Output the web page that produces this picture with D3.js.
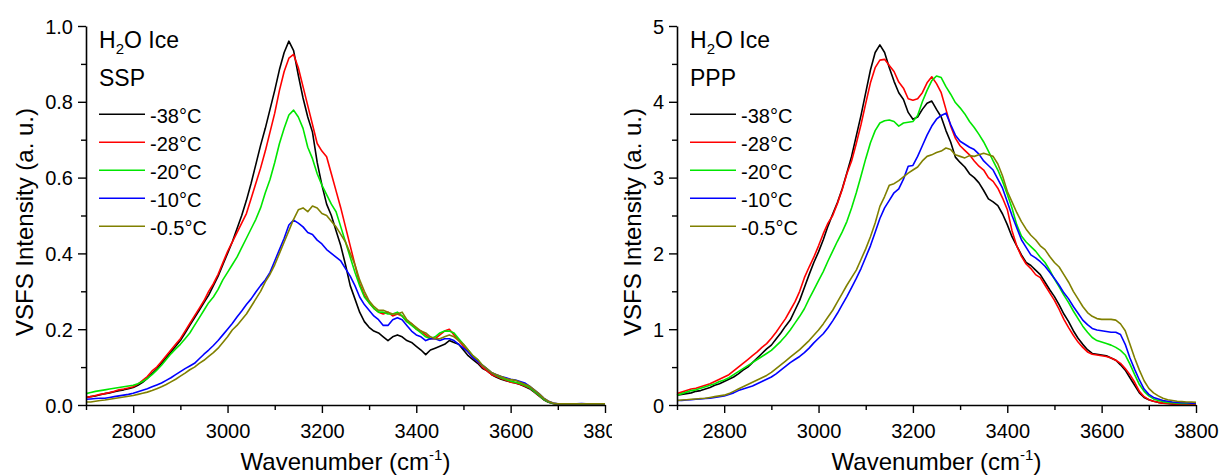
<!DOCTYPE html>
<html><head><meta charset="utf-8">
<script src="https://cdn.jsdelivr.net/npm/d3@7"></script>
<style>
body{margin:0;background:#fff;}
svg{display:block;}
text{font-family:Arial,"Liberation Sans",Helvetica,sans-serif;fill:#000;}
</style></head><body>
<svg id="chart" width="1221" height="475"></svg>
<script>
// ---------- DATA ----------
const wavenumbers = d3.range(2700, 3801, 10); // cm^-1 grid, 2700..3800
const seriesLabels = ["-38\u00B0C", "-28\u00B0C", "-20\u00B0C", "-10\u00B0C", "-0.5\u00B0C"];
const seriesColors = ["#000000", "#ff0000", "#00e600", "#0000ff", "#808000"];

// SSP panel
const ssp_m38 = [
0.020,0.022,0.024,0.027,0.030,0.032,0.035,0.038,0.040,0.043,
0.046,0.052,0.060,0.070,0.083,0.095,0.110,0.125,0.140,0.155,
0.170,0.190,0.210,0.230,0.250,0.270,0.290,0.315,0.340,0.370,
0.400,0.430,0.465,0.500,0.540,0.585,0.635,0.685,0.730,0.780,
0.830,0.885,0.930,0.960,0.935,0.870,0.810,0.760,0.720,0.640,
0.580,0.530,0.500,0.460,0.420,0.370,0.315,0.280,0.245,0.220,
0.205,0.195,0.190,0.180,0.170,0.180,0.185,0.180,0.170,0.165,
0.155,0.145,0.133,0.145,0.150,0.155,0.160,0.170,0.165,0.160,
0.145,0.130,0.120,0.110,0.097,0.090,0.080,0.073,0.068,0.064,
0.061,0.058,0.054,0.049,0.043,0.034,0.024,0.014,0.007,0.004,
0.002,0.002,0.002,0.002,0.002,0.002,0.002,0.002,0.002,0.002,
0.002];
const ssp_m28 = [
0.020,0.022,0.025,0.028,0.030,0.033,0.036,0.040,0.042,0.045,
0.048,0.055,0.065,0.075,0.090,0.100,0.115,0.130,0.145,0.160,
0.175,0.195,0.215,0.235,0.255,0.275,0.300,0.320,0.345,0.375,
0.405,0.430,0.455,0.480,0.505,0.545,0.585,0.625,0.670,0.720,
0.770,0.830,0.880,0.915,0.925,0.890,0.840,0.790,0.740,0.690,
0.670,0.655,0.610,0.565,0.520,0.470,0.420,0.370,0.320,0.290,
0.270,0.255,0.245,0.240,0.245,0.235,0.240,0.235,0.220,0.215,
0.200,0.195,0.185,0.175,0.175,0.185,0.195,0.200,0.185,0.170,
0.155,0.140,0.125,0.115,0.100,0.090,0.080,0.075,0.070,0.065,
0.060,0.058,0.055,0.050,0.045,0.035,0.025,0.015,0.008,0.004,
0.002,0.002,0.002,0.002,0.002,0.002,0.002,0.002,0.002,0.002,
0.002];
const ssp_m20 = [
0.030,0.033,0.036,0.038,0.040,0.042,0.044,0.046,0.048,0.050,
0.052,0.056,0.062,0.070,0.080,0.092,0.105,0.120,0.135,0.148,
0.160,0.175,0.190,0.210,0.230,0.250,0.270,0.285,0.305,0.330,
0.350,0.370,0.390,0.415,0.440,0.465,0.490,0.520,0.560,0.595,
0.640,0.690,0.730,0.765,0.778,0.760,0.730,0.680,0.650,0.610,
0.580,0.555,0.530,0.510,0.470,0.430,0.390,0.350,0.315,0.285,
0.270,0.255,0.245,0.245,0.240,0.240,0.245,0.235,0.220,0.210,
0.200,0.190,0.180,0.175,0.180,0.190,0.195,0.195,0.190,0.175,
0.160,0.145,0.130,0.120,0.105,0.095,0.085,0.078,0.072,0.067,
0.063,0.060,0.057,0.052,0.046,0.036,0.026,0.015,0.008,0.004,
0.002,0.002,0.002,0.002,0.002,0.002,0.002,0.002,0.002,0.002,
0.002];
const ssp_m10 = [
0.015,0.016,0.017,0.018,0.018,0.020,0.022,0.024,0.026,0.028,
0.031,0.035,0.039,0.043,0.048,0.053,0.058,0.065,0.072,0.080,
0.088,0.096,0.103,0.110,0.122,0.134,0.145,0.157,0.170,0.185,
0.200,0.215,0.232,0.248,0.265,0.280,0.298,0.315,0.330,0.350,
0.380,0.410,0.440,0.475,0.488,0.480,0.470,0.455,0.450,0.435,
0.425,0.410,0.400,0.390,0.380,0.360,0.340,0.315,0.285,0.265,
0.250,0.235,0.225,0.210,0.210,0.225,0.230,0.225,0.210,0.195,
0.185,0.180,0.170,0.175,0.175,0.170,0.175,0.175,0.170,0.160,
0.150,0.140,0.125,0.115,0.105,0.095,0.085,0.080,0.075,0.072,
0.068,0.066,0.062,0.058,0.050,0.040,0.030,0.018,0.010,0.005,
0.003,0.003,0.003,0.003,0.003,0.004,0.003,0.003,0.003,0.003,
0.003];
const ssp_m05 = [
0.008,0.008,0.010,0.012,0.013,0.015,0.017,0.019,0.021,0.023,
0.025,0.028,0.031,0.034,0.038,0.043,0.048,0.054,0.061,0.068,
0.076,0.084,0.093,0.100,0.110,0.118,0.128,0.138,0.150,0.165,
0.180,0.198,0.210,0.225,0.240,0.260,0.280,0.300,0.325,0.345,
0.370,0.400,0.430,0.460,0.490,0.515,0.520,0.510,0.525,0.520,
0.505,0.500,0.485,0.470,0.450,0.430,0.400,0.370,0.330,0.300,
0.275,0.260,0.250,0.250,0.245,0.240,0.240,0.245,0.225,0.215,
0.205,0.195,0.190,0.180,0.175,0.175,0.180,0.185,0.180,0.170,
0.160,0.145,0.130,0.120,0.105,0.095,0.085,0.080,0.075,0.070,
0.067,0.065,0.060,0.055,0.050,0.040,0.030,0.018,0.010,0.005,
0.003,0.003,0.003,0.003,0.003,0.003,0.003,0.003,0.003,0.003,
0.003];

// PPP panel
const ppp_m38 = [
0.13,0.14,0.15,0.16,0.18,0.19,0.21,0.23,0.26,0.28,
0.31,0.34,0.37,0.41,0.46,0.50,0.56,0.62,0.68,0.74,
0.79,0.87,0.95,1.04,1.12,1.25,1.38,1.55,1.72,1.88,
2.02,2.18,2.36,2.52,2.67,2.85,3.06,3.28,3.55,3.82,
4.12,4.42,4.65,4.75,4.65,4.45,4.27,4.12,4.03,3.86,
3.77,3.80,3.90,3.98,4.01,3.90,3.80,3.62,3.47,3.27,
3.20,3.14,3.05,3.00,2.93,2.83,2.72,2.68,2.63,2.52,
2.38,2.22,2.10,1.98,1.88,1.84,1.78,1.72,1.62,1.52,
1.43,1.32,1.20,1.10,0.98,0.88,0.80,0.73,0.68,0.67,
0.66,0.65,0.62,0.59,0.53,0.46,0.36,0.26,0.16,0.10,
0.07,0.05,0.035,0.025,0.02,0.015,0.012,0.01,0.01,0.01,
0.01];
const ppp_m28 = [
0.15,0.17,0.19,0.21,0.22,0.24,0.26,0.28,0.31,0.34,
0.37,0.40,0.45,0.50,0.55,0.60,0.65,0.70,0.76,0.81,
0.88,0.96,1.05,1.14,1.25,1.36,1.50,1.68,1.82,1.95,
2.10,2.26,2.40,2.50,2.66,2.84,3.05,3.22,3.45,3.70,
3.98,4.25,4.45,4.55,4.56,4.48,4.40,4.26,4.18,4.04,
4.02,4.04,4.12,4.25,4.33,4.24,4.12,3.90,3.68,3.52,
3.42,3.36,3.30,3.22,3.15,3.10,3.00,2.95,2.86,2.73,
2.58,2.30,2.10,1.96,1.86,1.80,1.72,1.68,1.58,1.48,
1.38,1.26,1.13,1.02,0.92,0.83,0.76,0.70,0.67,0.66,
0.65,0.64,0.62,0.59,0.55,0.48,0.40,0.30,0.18,0.11,
0.07,0.05,0.035,0.025,0.02,0.015,0.012,0.01,0.01,0.01,
0.01];
const ppp_m20 = [
0.13,0.15,0.17,0.19,0.20,0.22,0.24,0.26,0.28,0.31,
0.33,0.36,0.40,0.44,0.48,0.52,0.56,0.60,0.64,0.68,
0.72,0.78,0.84,0.91,0.99,1.08,1.17,1.27,1.40,1.52,
1.64,1.76,1.90,2.03,2.16,2.28,2.42,2.60,2.80,3.02,
3.25,3.46,3.62,3.72,3.75,3.76,3.74,3.68,3.72,3.73,
3.74,3.82,4.00,4.15,4.28,4.34,4.32,4.20,4.10,3.99,
3.92,3.84,3.74,3.66,3.57,3.47,3.35,3.22,3.10,2.95,
2.78,2.60,2.38,2.23,2.15,2.09,2.03,1.95,1.88,1.78,
1.66,1.56,1.45,1.35,1.24,1.14,1.04,0.96,0.89,0.85,
0.83,0.81,0.79,0.76,0.72,0.66,0.54,0.40,0.27,0.18,
0.12,0.08,0.06,0.045,0.035,0.03,0.025,0.02,0.02,0.02,
0.02];
const ppp_m10 = [
0.06,0.06,0.065,0.07,0.075,0.08,0.085,0.09,0.10,0.11,
0.12,0.14,0.16,0.19,0.21,0.23,0.25,0.28,0.31,0.34,
0.37,0.41,0.46,0.51,0.56,0.60,0.64,0.69,0.75,0.82,
0.88,0.94,1.02,1.11,1.21,1.32,1.43,1.55,1.67,1.80,
1.95,2.10,2.28,2.46,2.60,2.70,2.80,2.85,2.98,3.15,
3.16,3.28,3.42,3.56,3.68,3.77,3.82,3.85,3.70,3.56,
3.48,3.44,3.40,3.37,3.31,3.22,3.16,3.10,2.98,2.86,
2.68,2.50,2.34,2.18,2.08,1.98,1.94,1.89,1.83,1.75,
1.67,1.58,1.48,1.40,1.30,1.21,1.12,1.06,1.01,0.99,
0.98,0.97,0.96,0.96,0.93,0.80,0.62,0.47,0.33,0.21,
0.14,0.10,0.08,0.06,0.05,0.04,0.035,0.03,0.03,0.025,
0.025];
const ppp_m05 = [
0.06,0.065,0.07,0.075,0.08,0.085,0.09,0.10,0.11,0.12,
0.13,0.15,0.18,0.21,0.24,0.27,0.30,0.33,0.36,0.39,
0.43,0.48,0.53,0.58,0.63,0.68,0.73,0.79,0.85,0.92,
0.99,1.07,1.16,1.25,1.36,1.47,1.58,1.68,1.78,1.92,
2.06,2.22,2.40,2.62,2.75,2.90,2.92,2.96,3.01,3.06,
3.10,3.14,3.22,3.28,3.30,3.33,3.35,3.39,3.37,3.30,
3.28,3.26,3.29,3.28,3.30,3.32,3.30,3.28,3.18,3.02,
2.82,2.68,2.54,2.42,2.32,2.24,2.18,2.10,2.05,1.96,
1.88,1.82,1.72,1.62,1.50,1.40,1.30,1.22,1.17,1.14,
1.13,1.13,1.13,1.12,1.07,0.98,0.80,0.62,0.46,0.32,
0.22,0.16,0.12,0.09,0.07,0.06,0.05,0.045,0.04,0.04,
0.035];

const xTicksMajor = [2800, 3000, 3200, 3400, 3600, 3800];
const xTicksMinor = [2700, 2900, 3100, 3300, 3500, 3700];
const sspYMajor = [0, 0.2, 0.4, 0.6, 0.8, 1.0];
const sspYMinor = [0.1, 0.3, 0.5, 0.7, 0.9];
const pppYMajor = [0, 1, 2, 3, 4, 5];
const pppYMinor = [0.5, 1.5, 2.5, 3.5, 4.5];

// ---------- DRAW ----------
const svg = d3.select("#chart");
svg.append("rect").attr("width", 1221).attr("height", 475).attr("fill", "#fff");

const defs = svg.append("defs");
defs.append("clipPath").attr("id", "leftClip")
  .append("rect").attr("x", 0).attr("y", 0).attr("width", 612).attr("height", 475);

function drawPanel(opt) {
  const g = svg.append("g").attr("clip-path", opt.clip ? "url(#" + opt.clip + ")" : null);
  const x = d3.scaleLinear().domain([2700, 3800]).range([opt.x0, opt.x1]);
  const y = d3.scaleLinear().domain(opt.yDomain).range([405, 26]);

  // curves
  const line = d3.line().x((d, j) => x(wavenumbers[j])).y(d => y(d));
  opt.series.forEach((s, i) => {
    g.append("path").datum(s)
      .attr("d", line)
      .attr("fill", "none")
      .attr("stroke", seriesColors[i])
      .attr("stroke-width", 1.6)
      .attr("stroke-linejoin", "round");
  });

  // x axis
  const xMin = g.append("g").attr("transform", "translate(0,405)")
    .call(d3.axisBottom(x).tickValues(xTicksMinor).tickSize(5).tickSizeOuter(0).tickFormat(""));
  xMin.select(".domain").remove();
  const xMaj = g.append("g").attr("transform", "translate(0,405)")
    .call(d3.axisBottom(x).tickValues(xTicksMajor).tickSize(8).tickSizeOuter(0).tickPadding(6).tickFormat(d3.format("d")));
  xMaj.selectAll("text").attr("font-size", 20).attr("dy", null).attr("y", 33);

  // y axis
  const yMin = g.append("g").attr("transform", "translate(" + opt.x0 + ",0)")
    .call(d3.axisLeft(y).tickValues(opt.yMinor).tickSize(5).tickSizeOuter(0).tickFormat(""));
  yMin.select(".domain").remove();
  const yMaj = g.append("g").attr("transform", "translate(" + opt.x0 + ",0)")
    .call(d3.axisLeft(y).tickValues(opt.yMajor).tickSize(8).tickSizeOuter(0).tickPadding(5).tickFormat(opt.yFormat));
  yMaj.selectAll("text").attr("font-size", 20).attr("dy", "0.35em");

  g.selectAll(".domain").attr("stroke", "#000").attr("stroke-width", 1.6);
  g.selectAll(".tick line").attr("stroke", "#000").attr("stroke-width", 1.4);
  g.selectAll(".tick text").attr("fill", "#000").attr("font-family", "Arial, 'Liberation Sans', sans-serif");

  // axis titles
  const xt = g.append("text").attr("x", (opt.x0 + opt.x1) / 2).attr("y", 470)
    .attr("text-anchor", "middle").attr("font-size", 24);
  xt.append("tspan").text("Wavenumber (cm");
  xt.append("tspan").attr("font-size", 15).attr("dy", -10).text("-1");
  xt.append("tspan").attr("dy", 10).text(")");

  g.append("text").attr("transform", "translate(" + opt.yTitleX + ",222) rotate(-90)")
    .attr("text-anchor", "middle").attr("font-size", 24)
    .text("VSFS Intensity (a. u.)");

  // annotation
  const lx = opt.x0 + 13;
  const t1 = g.append("text").attr("x", lx).attr("y", 48).attr("font-size", 23);
  t1.append("tspan").text("H");
  t1.append("tspan").attr("font-size", 15).attr("dy", 6).text("2");
  t1.append("tspan").attr("dy", -6).text("O Ice");
  g.append("text").attr("x", lx).attr("y", 86).attr("font-size", 23).text(opt.mode);

  // legend
  seriesLabels.forEach((lab, i) => {
    const ly = 114.3 + i * 28;
    g.append("line").attr("x1", lx).attr("x2", lx + 46).attr("y1", ly).attr("y2", ly)
      .attr("stroke", seriesColors[i]).attr("stroke-width", 1.6);
    g.append("text").attr("x", lx + 51).attr("y", ly + 8.5).attr("font-size", 20).text(lab);
  });
}

drawPanel({
  x0: 86, x1: 605, yDomain: [0, 1.0], yMajor: sspYMajor, yMinor: sspYMinor,
  yFormat: d3.format(".1f"), mode: "SSP", clip: "leftClip", yTitleX: 33,
  series: [ssp_m38, ssp_m28, ssp_m20, ssp_m10, ssp_m05]
});
drawPanel({
  x0: 677, x1: 1196, yDomain: [0, 5], yMajor: pppYMajor, yMinor: pppYMinor,
  yFormat: d3.format("d"), mode: "PPP", clip: null, yTitleX: 641,
  series: [ppp_m38, ppp_m28, ppp_m20, ppp_m10, ppp_m05]
});
</script>
</body></html>
